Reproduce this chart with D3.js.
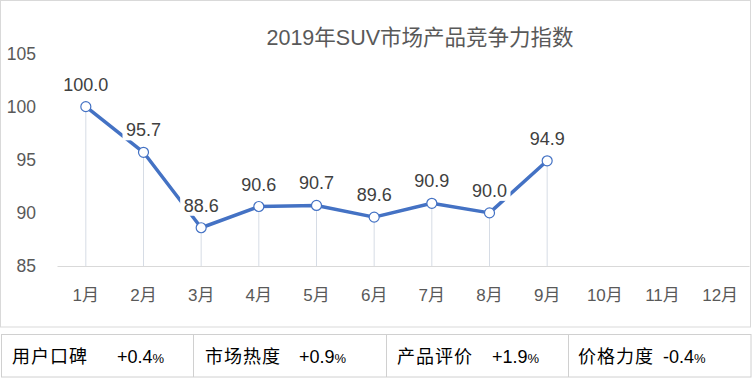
<!DOCTYPE html>
<html><head><meta charset="utf-8">
<script src="https://cdn.jsdelivr.net/npm/d3@7"></script>
<style>
body{margin:0;background:#fff;}
svg{display:block;font-family:"Liberation Sans","Noto Sans CJK SC",sans-serif;}
</style></head>
<body><svg id="c" width="752" height="379"></svg>
<script>
const months = ["1月","2月","3月","4月","5月","6月","7月","8月","9月","10月","11月","12月"];
const values = [100.0,95.7,88.6,90.6,90.7,89.6,90.9,90.0,94.9];
const yTicks = [85,90,95,100,105];
const title = "2019年SUV市场产品竞争力指数";
const tableLabels = ["用户口碑","市场热度","产品评价","价格力度"];
const tableNums = ["+0.4","+0.9","+1.9","-0.4"];

const svg = d3.select("#c");
svg.append("rect").attr("x",0.5).attr("y",0.5).attr("width",750).attr("height",326.5)
  .attr("fill","none").attr("stroke","#d9d9d9");

const x = d3.scaleBand().domain(months).range([57,749]);
const y = d3.scaleLinear().domain([85,105]).range([266,53.5]);

svg.append("text").attr("x",420).attr("y",45).attr("text-anchor","middle")
  .attr("font-size",21.5).attr("fill","#595959").text(title);

const ya = svg.append("g").attr("transform","translate(36,0)")
  .call(d3.axisLeft(y).tickValues(yTicks).tickSize(0).tickPadding(0));
ya.select(".domain").remove();
ya.selectAll("text").attr("font-size",17.5).attr("fill","#595959")
  .attr("font-family","Liberation Sans, sans-serif");

const xa = svg.append("g").attr("transform","translate(0,266)")
  .call(d3.axisBottom(x).tickSize(0).tickPadding(23));
xa.select(".domain").attr("stroke","#d9d9d9").attr("stroke-width",1);
xa.selectAll("text").attr("font-size",17).attr("fill","#595959")
  .attr("font-family","Liberation Sans, Noto Sans CJK SC, sans-serif");

const cx = (d,i)=> x(months[i]) + x.bandwidth()/2;

svg.append("g").selectAll("line").data(values).join("line")
  .attr("x1",cx).attr("x2",cx).attr("y1",d=>y(d)).attr("y2",266)
  .attr("stroke","#d6dce5").attr("stroke-width",1);

svg.append("path").datum(values)
  .attr("d",d3.line().x(cx).y(d=>y(d)))
  .attr("fill","none").attr("stroke","#4472c4").attr("stroke-width",3.5)
  .attr("stroke-linejoin","round");

const lab = svg.append("g").selectAll("g").data(values).join("g")
  .attr("transform",(d,i)=>`translate(${cx(d,i)},${y(d)-18})`);
lab.append("rect").attr("x",-21).attr("y",-15).attr("width",42).attr("height",21).attr("fill","#fff");
lab.append("text").attr("text-anchor","middle").attr("font-size",18).attr("fill","#404040")
  .attr("y",2).text(d=>d.toFixed(1));

svg.append("g").selectAll("circle").data(values).join("circle")
  .attr("cx",cx).attr("cy",d=>y(d)).attr("r",5)
  .attr("fill","#fff").attr("stroke","#4472c4").attr("stroke-width",1.2);

const tb = svg.append("g");
tb.append("rect").attr("x",1.5).attr("y",334.5).attr("width",749.5).attr("height",42.5)
  .attr("fill","none").attr("stroke","#d0d0d0");
[193.5,386.5,568.5].forEach(v=>tb.append("line").attr("x1",v).attr("x2",v).attr("y1",334.5).attr("y2",377)
  .attr("stroke","#d0d0d0"));
const labX = [12,205,397,578];
const numX = [117,299,492,663];
tableLabels.forEach((t,i)=>{
  tb.append("text").attr("x",labX[i]).attr("y",363).attr("font-size",18).attr("fill","#000")
    .attr("font-family","Noto Sans CJK SC, sans-serif").attr("letter-spacing",1).text(t);
  const tt = tb.append("text").attr("x",numX[i]).attr("y",363).attr("font-size",18).attr("fill","#000")
    .attr("font-family","Liberation Sans, sans-serif");
  tt.append("tspan").text(tableNums[i]);
  tt.append("tspan").attr("font-size",13).text("%");
});
</script></body></html>
